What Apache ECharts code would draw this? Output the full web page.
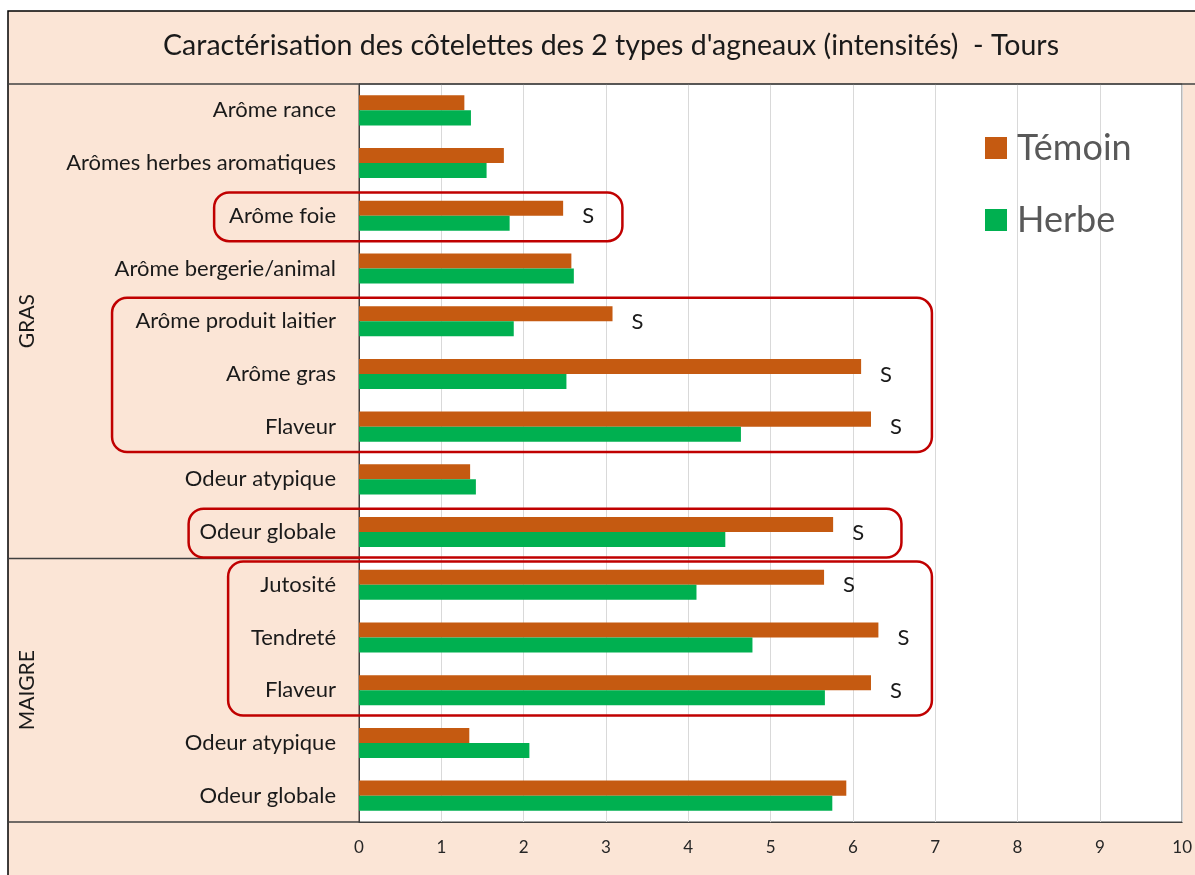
<!DOCTYPE html>
<html>
<head>
<meta charset="utf-8">
<script src="https://cdn.jsdelivr.net/npm/echarts@6/dist/echarts.min.js"></script>
<style>
    html, body { margin: 0; padding: 0; background: #fff; }
    #chart { width: 1195px; height: 875px; }
</style>
</head>
<body>
<div id="chart"></div>
<script>
// données
var categories = ['Arôme rance', 'Arômes herbes aromatiques', 'Arôme foie', 'Arôme bergerie/animal',
    'Arôme produit laitier', 'Arôme gras', 'Flaveur', 'Odeur atypique', 'Odeur globale',
    'Jutosité', 'Tendreté', 'Flaveur', 'Odeur atypique', 'Odeur globale'];
var temoin = [1.28, 1.76, 2.48, 2.58, 3.08, 6.10, 6.22, 1.35, 5.76, 5.65, 6.31, 6.22, 1.34, 5.92];
var herbe  = [1.36, 1.55, 1.83, 2.61, 1.88, 2.52, 4.64, 1.42, 4.45, 4.10, 4.78, 5.66, 2.07, 5.75];
// différence significative (S)
var significatif = [0, 0, 1, 0, 1, 1, 1, 0, 1, 1, 1, 1, 0, 0];
var groupes = [
    {nom: 'GRAS', debut: 0, fin: 8},
    {nom: 'MAIGRE', debut: 9, fin: 13}
];
// encadrés rouges : catégories couvertes et étendue en unités de l'axe
var encadres = [
    {debut: 2, fin: 2, gauche: -1.76, droite: 3.2},
    {debut: 4, fin: 6, gauche: -3.0, droite: 6.96},
    {debut: 8, fin: 8, gauche: -2.07, droite: 6.59},
    {debut: 9, fin: 11, gauche: -1.59, droite: 6.96}
];
var xMin = 0, xMax = 10, xPas = 1;

var police = 'Lato, "Open Sans", sans-serif';
var chart = echarts.init(document.getElementById('chart'));

var option = {
    backgroundColor: '#fff',
    animation: false,
    title: {
        text: "Caractérisation des côtelettes des 2 types d'agneaux (intensités)  - Tours",
        left: 606, top: 26, textAlign: 'center',
        textStyle: {fontFamily: police, fontSize: 28.5, fontWeight: 'normal', color: '#1a1a1a'}
    },
    legend: {
        orient: 'vertical',
        left: 980, top: 125,
        itemWidth: 22, itemHeight: 22, itemGap: 36,
        icon: 'rect',
        textStyle: {fontFamily: police, fontSize: 36, color: '#595959', padding: [0, 0, 0, 5]},
        data: ['Témoin', 'Herbe']
    },
    grid: {
        left: 359, right: 7, top: 84, bottom: 53,
        show: true, backgroundColor: '#fff', borderColor: '#404040', borderWidth: 1
    },
    xAxis: {
        type: 'value', min: xMin, max: xMax, interval: xPas,
        axisLine: {show: true, lineStyle: {color: '#404040', width: 1}},
        axisTick: {show: false},
        splitLine: {lineStyle: {color: '#d9d9d9', width: 1}},
        axisLabel: {fontFamily: police, fontSize: 17, color: '#262626', margin: 17}
    },
    yAxis: {
        type: 'category', inverse: true, data: categories,
        axisLine: {show: true, lineStyle: {color: '#404040', width: 1}},
        axisTick: {show: false},
        axisLabel: {fontFamily: police, fontSize: 22, color: '#1a1a1a', margin: 23}
    },
    series: [
        {
            name: 'Témoin', type: 'bar', data: temoin,
            barGap: '0%', barCategoryGap: '43%',
            itemStyle: {color: '#c55a11'},
            label: {
                show: true, position: 'right', distance: 19, offset: [0, 8],
                fontFamily: police, fontSize: 22, color: '#1a1a1a',
                formatter: function (p) { return significatif[p.dataIndex] ? 'S' : ''; }
            }
        },
        {
            name: 'Herbe', type: 'bar', data: herbe,
            itemStyle: {color: '#00b050'}
        }
    ]
};
chart.setOption(option);

// éléments graphiques : cadre, séparateurs, groupes, encadrés
function bandes(i) {
    var c = chart.convertToPixel({yAxisIndex: 0}, i);
    var pas = chart.convertToPixel({yAxisIndex: 0}, 1) - chart.convertToPixel({yAxisIndex: 0}, 0);
    return [c - pas / 2, c + pas / 2];
}
var x0 = chart.convertToPixel({xAxisIndex: 0}, 0);
var graphiques = [
    {type: 'rect', z: -10, silent: true, shape: {x: 8, y: 11, width: 1200, height: 880},
        style: {fill: '#fbe5d6', stroke: '#000', lineWidth: 1.5}},
    {type: 'line', z: 5, shape: {x1: 8, y1: 84, x2: 1195, y2: 84}, style: {stroke: '#404040', lineWidth: 1.5}},
    {type: 'line', z: 5, shape: {x1: 8, y1: 822, x2: x0, y2: 822}, style: {stroke: '#404040', lineWidth: 1.5}}
];
groupes.forEach(function (g, k) {
    var haut = bandes(g.debut)[0], bas = bandes(g.fin)[1];
    if (k > 0) {
        graphiques.push({type: 'line', z: 5, shape: {x1: 8, y1: haut, x2: x0, y2: haut},
            style: {stroke: '#404040', lineWidth: 1.5}});
    }
    graphiques.push({type: 'text', z: 5, x: 27, y: (haut + bas) / 2, rotation: Math.PI / 2,
        style: {text: g.nom, fontFamily: police, fontSize: 21, fill: '#1a1a1a',
            align: 'center', verticalAlign: 'middle'}});
});
encadres.forEach(function (e) {
    var haut = bandes(e.debut)[0] + 3, bas = bandes(e.fin)[1] - 1;
    var g = chart.convertToPixel({xAxisIndex: 0}, e.gauche);
    var d = chart.convertToPixel({xAxisIndex: 0}, e.droite);
    graphiques.push({type: 'rect', z: 20, silent: true,
        shape: {x: g, y: haut, width: d - g, height: bas - haut, r: 15},
        style: {fill: 'none', stroke: '#c00000', lineWidth: 2.5}});
});
chart.setOption({graphic: graphiques});

window.addEventListener('resize', function () {
    chart.resize();
});
</script>
</body>
</html>
